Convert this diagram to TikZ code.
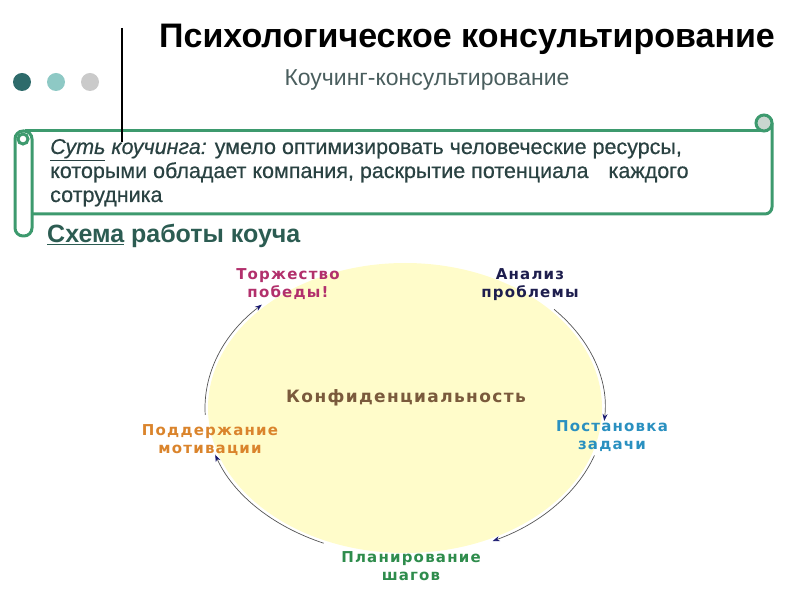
\documentclass[tikz,border=0pt]{standalone}
\usepackage{fontspec}
\setmainfont{Liberation Sans}
\newfontfamily\labfont[LetterSpace=8]{DejaVu Sans}
\newfontfamily\bodyfont[FakeBold=0.5, ItalicFeatures={FakeBold=0.5}]{Liberation Sans}
\usetikzlibrary{arrows.meta}
\definecolor{scrollgreen}{HTML}{3D9A6E}
\definecolor{ellyellow}{HTML}{FFFCCA}
\definecolor{bodytext}{HTML}{2A4242}
\definecolor{schemetext}{HTML}{2C5C52}
\definecolor{subgray}{HTML}{4A5E5E}
\definecolor{dotA}{HTML}{2E6B6B}
\definecolor{dotB}{HTML}{8EC9C5}
\definecolor{dotC}{HTML}{CACACA}
\definecolor{curlfill}{HTML}{C9D6CF}
\definecolor{torcol}{HTML}{B2306C}
\definecolor{ancol}{HTML}{1E1E4E}
\definecolor{poscol}{HTML}{2A90C0}
\definecolor{placol}{HTML}{2E8C4C}
\definecolor{podcol}{HTML}{DA842C}
\definecolor{confcol}{HTML}{7A5A3C}
\definecolor{arccol}{HTML}{555555}
\definecolor{tipcol}{HTML}{1A1A70}
\tikzset{
  scrollline/.style={draw=scrollgreen, line width=3pt},
  arcline/.style={draw=arccol, line width=0.7pt, -{Stealth[length=7pt,width=5pt,color=tipcol]}},
  steplabel/.style={align=center, inner sep=0pt, font=\labfont\bfseries\fontsize{15}{18}\selectfont},
  bodyline/.style={anchor=base west, inner sep=0pt, text=bodytext, font=\bodyfont\fontsize{21.5}{24}\selectfont}
}
\begin{document}
\begin{tikzpicture}[x=1pt,y=1pt]
\useasboundingbox (0,0) rectangle (800,600);
% dots
\fill[dotA] (22,518) circle[radius=9];
\fill[dotB] (56,518) circle[radius=9];
\fill[dotC] (90,518) circle[radius=9];
% title
\node[inner sep=0pt, font=\bfseries\fontsize{34}{38}\selectfont] (title) at (467,561) {Психологическое консультирование};
\node[inner sep=0pt, text=subgray, font=\fontsize{23}{26}\selectfont] (sub) at (427,520) {Коучинг-консультирование};
% scroll
\draw[scrollline] (25,469) -- (764,469);
\draw[scrollline, rounded corners=7] (772,477) -- (772,386) -- (32,386);
\draw[scrollline, fill=curlfill] (764,477) circle[radius=8];
\draw[scrollline, rounded corners=8, fill=white] (15,364) rectangle (32,469);
\draw[scrollline] (23,461) circle[radius=5];
% vertical line
\coordinate (vtop) at (122,572);
\coordinate (vbot) at (122,458);
\draw[line width=2.5pt] (vtop) -- (vbot);
% scroll text
\node[bodyline] (s1) at (50,446) {\textit{\underline{Суть} коучинга:} умело оптимизировать человеческие ресурсы,};
\node[bodyline] (s2) at (50,422) {которыми обладает компания, раскрытие потенциала\hspace{14pt} каждого};
\node[bodyline] (s3) at (50,398) {сотрудника};
\node[anchor=base west, inner sep=0pt, text=schemetext, font=\bfseries\fontsize{25}{28}\selectfont] (scheme) at (47,357) {\underline{Схема} работы коуча};
% ellipse
\fill[ellyellow] (405,192) ellipse[x radius=197, y radius=145];
\coordinate (a1) at ([shift={(405,192)}]41.8:200 and 148);
\coordinate (a2) at ([shift={(405,192)}]-18.7:200 and 148);
\coordinate (a3) at ([shift={(405,192)}]-114:200 and 148);
\coordinate (a4) at ([shift={(405,192)}]182.7:200 and 148);
\draw[arcline] (a1) arc[start angle=41.8, end angle=-5, x radius=200, y radius=148];
\draw[arcline] (a2) arc[start angle=-18.7, end angle=-64, x radius=200, y radius=148];
\draw[arcline] (a3) arc[start angle=-114, end angle=-161.6, x radius=200, y radius=148];
\draw[arcline] (a4) arc[start angle=182.7, end angle=135.7, x radius=200, y radius=148];
% labels
\node[steplabel, text=torcol] (tor) at (288,315.5) {Торжество\\победы!};
\node[steplabel, text=ancol] (an) at (530,315) {Анализ\\проблемы};
\node[steplabel, text=poscol] (pos) at (612,163.5) {Постановка\\задачи};
\node[steplabel, text=placol] (pla) at (411,34) {Планирование\\шагов};
\node[steplabel, text=podcol] (pod) at (210,160) {Поддержание\\мотивации};
\node[steplabel, text=confcol, font=\labfont\bfseries\fontsize{17}{20}\selectfont] (conf) at (406,202) {Конфиденциальность};
\end{tikzpicture}
\end{document}
